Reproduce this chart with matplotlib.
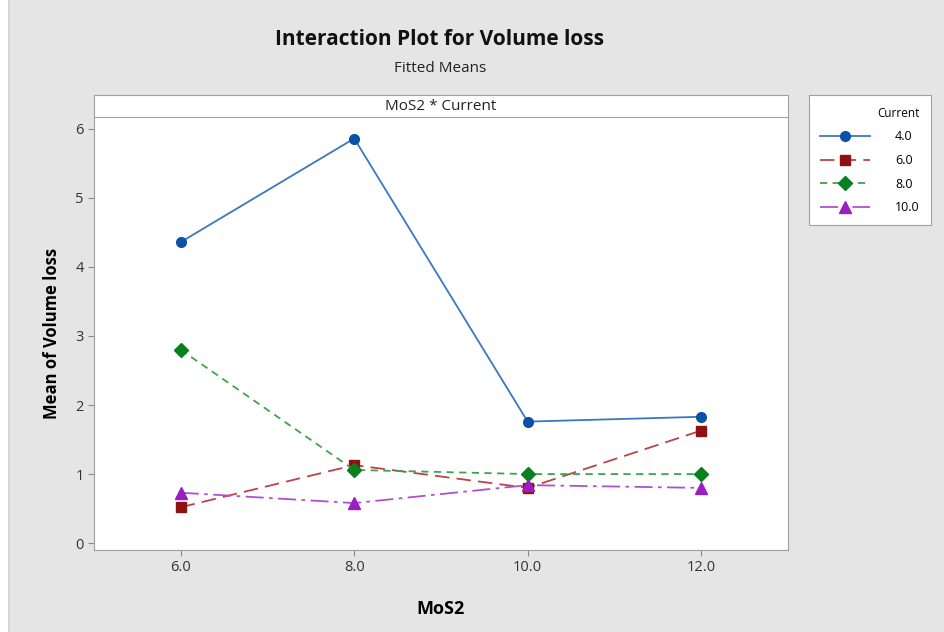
import matplotlib.pyplot as plt
from matplotlib.patches import Rectangle

plt.rcParams['font.family'] = ['Open Sans', 'DejaVu Sans']

mos2 = [6.0, 8.0, 10.0, 12.0]
mos2_labels = ['6.0', '8.0', '10.0', '12.0']
current_levels = ['4.0', '6.0', '8.0', '10.0']
loss_4 = [4.36, 5.86, 1.76, 1.83]
loss_6 = [0.52, 1.13, 0.80, 1.63]
loss_8 = [2.80, 1.06, 1.00, 1.00]
loss_10 = [0.73, 0.58, 0.84, 0.80]

series = [loss_4, loss_6, loss_8, loss_10]
line_cols = ['#3a78c0', '#b84545', '#3fa34d', '#b050d0']
mark_cols = ['#0a52a8', '#8e1212', '#078020', '#9a1ec0']
markers = ['o', 's', 'D', '^']
msizes = [7, 7, 7, 8]
dash_styles = [None, (8, 4), (4, 3), (10, 3, 2, 3)]

fig = plt.figure(figsize=(9.44, 6.32), dpi=100)
fig.patch.set_facecolor('#e5e5e5')

# white margin on the left edge
fig.patches.append(Rectangle((0, 0), 8 / 944, 1, transform=fig.transFigure,
                             facecolor='white', edgecolor='none'))
fig.patches.append(Rectangle((8 / 944, 0), 1.5 / 944, 1, transform=fig.transFigure,
                             facecolor='#d6d6d6', edgecolor='none'))

ax = fig.add_axes([0.0996, 0.1297, 0.735, 0.685])
ax.set_facecolor('white')

for vals, lc, mc, mk, ms, ds, lab in zip(series, line_cols, mark_cols, markers,
                                          msizes, dash_styles, current_levels):
    line, = ax.plot(mos2, vals, color=lc, lw=1.3, marker=mk, markersize=ms,
                    markerfacecolor=mc, markeredgecolor=mc, label=lab)
    if ds is not None:
        line.set_dashes(ds)

ax.set_xlim(5.0, 13.0)
ax.set_ylim(-0.1, 6.17)
ax.set_xticks(mos2)
ax.set_xticklabels(mos2_labels)
ax.set_yticks(range(0, 7))
ax.tick_params(labelsize=10.5, length=4, width=0.8, colors='#888888',
               labelcolor='#333333')
for s in ax.spines.values():
    s.set_color('#a0a0a0')
ax.spines['top'].set_visible(False)

ax.set_xlabel('MoS2', fontsize=13, fontweight='bold', labelpad=18)
ax.set_ylabel('Mean of Volume loss', fontsize=12, fontweight='bold', labelpad=10)

# strip above plot
strip = Rectangle((0.0996, 0.815), 0.735, 0.035, transform=fig.transFigure,
                  facecolor='white', edgecolor='#a0a0a0', lw=0.8)
fig.patches.append(strip)
fig.text(0.0996 + 0.735 / 2, 0.832, 'MoS2 * Current', ha='center', va='center',
         fontsize=11, color='#222222')

fig.text(0.466, 0.938, 'Interaction Plot for Volume loss', ha='center', va='center',
         fontsize=15, fontweight='bold', color='#111111')
fig.text(0.466, 0.891, 'Fitted Means', ha='center', va='center',
         fontsize=11, color='#222222')

leg = ax.legend(title='Current', loc='upper left', bbox_to_anchor=(1.03, 1.05),
                frameon=True, fontsize=9, title_fontsize=8.5, alignment='right',
                handlelength=4.0, handletextpad=2.0, borderpad=0.9,
                labelspacing=0.85, fancybox=False, borderaxespad=0)
leg.get_frame().set_edgecolor('#a0a0a0')
leg.get_frame().set_linewidth(0.8)
leg.get_frame().set_facecolor('white')
leg.get_frame().set_alpha(1)

fig.savefig('out.png', dpi=100, facecolor=fig.get_facecolor())
